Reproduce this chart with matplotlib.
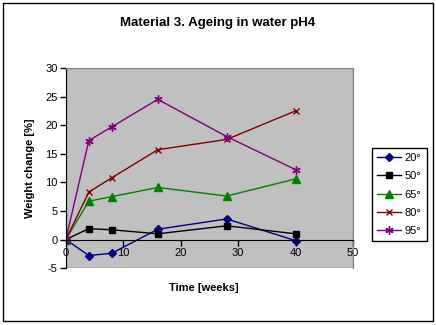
import matplotlib
matplotlib.use('Agg')
import matplotlib.pyplot as plt
from matplotlib.patches import Rectangle

plt.rcParams['font.family'] = ['Liberation Sans', 'DejaVu Sans']
plt.rcParams['axes.unicode_minus'] = False

# Datos
weeks = [0, 4, 8, 16, 28, 40]
w20 = [0, -2.8, -2.4, 1.8, 3.6, -0.2]
w50 = [0, 1.9, 1.7, 1.0, 2.4, 1.0]
w65 = [0, 6.7, 7.5, 9.1, 7.6, 10.6]
w80 = [0, 8.3, 10.8, 15.7, 17.5, 22.5]
w95 = [0, 17.3, 19.7, 24.5, 18.0, 12.2]
labels = ['20°', '50°', '65°', '80°', '95°']

fig = plt.figure(figsize=(4.36, 3.25), dpi=100)
fig.patches.append(Rectangle((0.007, 0.012), 0.985, 0.978, transform=fig.transFigure,
                             fill=False, edgecolor='black', linewidth=1))
ax = fig.add_axes([0.151, 0.175, 0.659, 0.616])
ax.set_facecolor('#c0c0c0')

ax.plot(weeks, w20, color='#000080', marker='D', ms=4, lw=1, label=labels[0])
ax.plot(weeks, w50, color='black', marker='s', ms=5, lw=1, label=labels[1])
ax.plot(weeks, w65, color='#008000', marker='^', ms=6, lw=1, label=labels[2])
ax.plot(weeks, w80, color='#800000', marker='x', ms=5, mew=1, lw=1, label=labels[3])
ax.plot(weeks, w95, color='#800080', marker=(6, 2, 0), ms=6, mew=1, lw=1, label=labels[4])

ax.set_xlim(0, 50)
ax.set_ylim(-5, 30)
ax.set_xticks(range(0, 51, 10))
ax.set_yticks(range(-5, 31, 5))

for s in ['top', 'right']:
    ax.spines[s].set_color('#808080')
ax.spines['left'].set_color('black')
ax.spines['bottom'].set_position(('data', 0))
ax.spines['bottom'].set_color('black')
ax.add_patch(Rectangle((0, 0), 1, 1, transform=ax.transAxes, fill=False,
                       edgecolor='#808080', linewidth=1, zorder=0.5))
ax.tick_params(axis='both', labelsize=8, length=4, width=1, direction='out', pad=2)

fig.text(0.5, 0.93, 'Material 3. Ageing in water pH4', fontsize=9.5,
         fontweight='bold', ha='center', va='center')
ax.set_ylabel('Weight change [%]', fontsize=8, fontweight='bold', labelpad=7)
fig.text(0.468, 0.105, 'Time [weeks]', fontsize=8, fontweight='bold', ha='center')

leg = ax.legend(loc='upper left', bbox_to_anchor=(372 / 436, 1 - 148 / 325),
                bbox_transform=fig.transFigure, borderaxespad=0, fontsize=8,
                frameon=True, fancybox=False, edgecolor='black', framealpha=1,
                handlelength=2.2, labelspacing=0.75, borderpad=0.45, handletextpad=0.3)
leg.get_frame().set_linewidth(1)

fig.savefig('out.png', dpi=100)
